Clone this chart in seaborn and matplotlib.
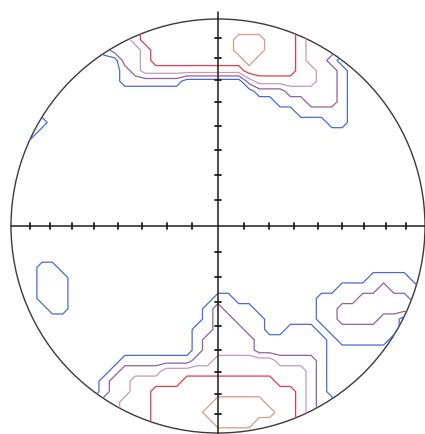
import matplotlib
matplotlib.use("Agg")
import matplotlib.pyplot as plt
import numpy as np
import seaborn as sns
from matplotlib.patches import Circle

# Pole density band (0-5) read off the net, one digit per node of a
# 41 x 41 grid (step 0.05 in net units), top row first. Spaces only group runs.
DENSITY_ROWS = [
    "000000000 1 22 3 444444444444444 3 222 1 00000000",
    "000000000 1 22 3 444444444444444 3 222 1 00000000",
    "000000000 1 22 3 444444444 555 444 3 222 1 00000000",
    "000000000 1 222 3 44444444 555 444 3 222 1 00000000",
    "00000000000 22 3 444444444 5 4444 3 22 1 000000000",
    "00000000000 1 2 3333333333 44444 33 22 1 00000000",
    "00000000000 111111 000000 2 333333 22 1 00000000",
    "000000000000000000000000 111 22222 1 00000000",
    "00000000000000000000000000 111 222 1 00000000",
    "0000000000000000000000000000 11111 00000000",
    "1111 000000000000000000000000000 11 00000000",
    "111 00000000000000000000000000000000000000",
    "11 000000000000000000000000000000000000000",
    "00000000000000000000000000000000000000000",
    "00000000000000000000000000000000000000000",
    "00000000000000000000000000000000000000000",
    "00000000000000000000000000000000000000000",
    "00000000000000000000000000000000000000000",
    "00000000000000000000000000000000000000000",
    "00000000000000000000000000000000000000000",
    "00000000000000000000000000000000000000000",
    "00000000000000000000000000000000000000000",
    "00000000000000000000000000000000000000000",
    "00000000000000000000000000000000000000000",
    "000 11 000000000000000000000000000000000000",
    "000 111 00000000000000000000000000000 1111 00",
    "000 111 00000000000000000000000000 1111 2 111 0",
    "000 111 00000000000000 11 00000000 1111 22222 11",
    "0000 11 0000000000000 1 2 111 000000 11 22222222 1",
    "0000000000000000000 1 22 111 00000 11 2222 11 000",
    "000000000000000000 11 222 11 00 111 0 1111111 000",
    "000000000000000000 1 22222 1111111 0 11111 0000",
    "000000000000000000 1 22222 1111111 0000000000",
    "00000000000 1111111 22 333333 2222 1 0000000000",
    "0000000000 1 2222 33333333333333 2 1 0000000000",
    "000000000 1 22 33333 444444444 333 2 1 0000000000",
    "000000000 1 22 33 44444444444444 3 2 1 0000000000",
    "00000000 1 22 333 444444 55555 444 3 2 11 000000000",
    "00000000 11 2 333 44444 5555555 44 3 2 11 000000000",
    "00000000 11 2 333 444444 5555 4444 3 2 11 000000000",
    "00000000 11 2 333 44444444444444 3 2 11 000000000",
]
GRID_STEP = 0.05

CONTOUR_LEVELS = [1, 2, 3, 4, 5]
LEVEL_COLORS = ["#4a6ad0", "#9060a0", "#c898b8", "#e03c4c", "#d49a8a"]

# equal-area net: graduation every 10 degrees along both diameters
TICK_DEGREES = [10, 20, 30, 40, 50, 60, 70, 80]

sns.set_theme(style="white")
palette = sns.color_palette(LEVEL_COLORS)

density = np.array([[int(c) for c in row.replace(" ", "")] for row in DENSITY_ROWS])
n_rows, n_cols = density.shape
xs = -1 + GRID_STEP * np.arange(n_cols)
ys = 1 - GRID_STEP * np.arange(n_rows)

fig = plt.figure(figsize=(4.25, 4.35), dpi=100)
ax = fig.add_axes([0, 0, 1, 1])
ax.set_xlim(-218 / 207, 207 / 207)
ax.set_ylim(-208 / 207, 227 / 207)
ax.set_aspect("equal")
ax.set_axis_off()

cs = ax.contour(
    xs,
    ys[::-1],
    density[::-1],
    levels=[level - 0.5 for level in CONTOUR_LEVELS],
    colors=palette,
    linewidths=0.9,
)
net = Circle((0, 0), 1, transform=ax.transData)
cs.set_clip_path(net)

ax.add_patch(Circle((0, 0), 1, fill=False, edgecolor="#3a3a3a", linewidth=1.0))
ax.plot([-1, 1], [0, 0], color="#1e1e1e", linewidth=1.1)
ax.plot([0, 0], [-1.02, 1.034], color="#1e1e1e", linewidth=1.1)

tick_half = 3 / 207
for deg in TICK_DEGREES:
    r = np.sqrt(2) * np.sin(np.radians(deg / 2))
    for side in (-1, 1):
        ax.plot([side * r, side * r], [-tick_half, tick_half], color="#1e1e1e", linewidth=1.3)
        ax.plot([-tick_half, tick_half], [side * r, side * r], color="#1e1e1e", linewidth=1.3)

fig.savefig("out.png", dpi=100)
plt.close(fig)
